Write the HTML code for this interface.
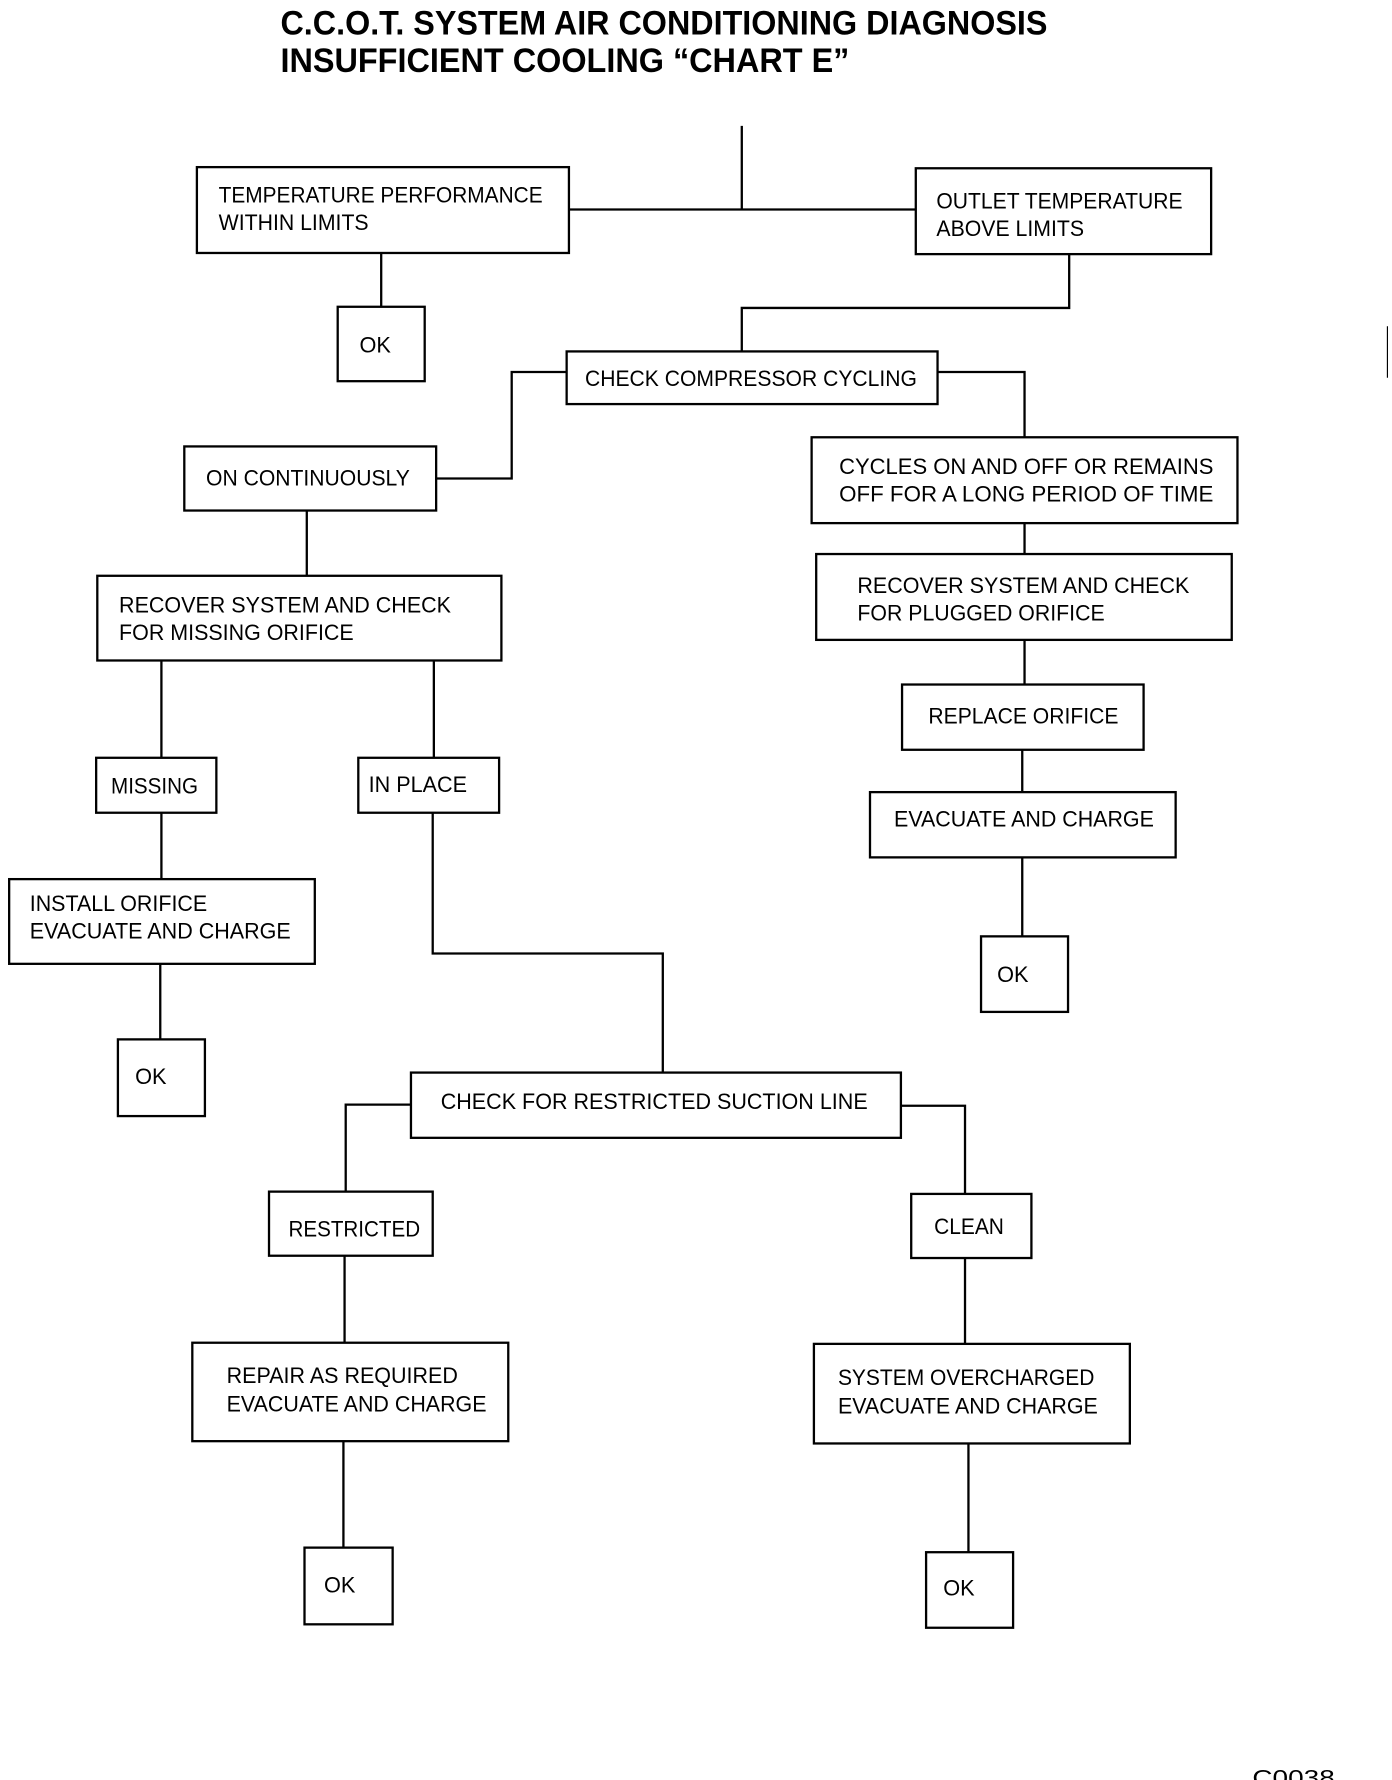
<!DOCTYPE html>
<html><head><meta charset="utf-8"><style>
html,body{margin:0;padding:0;background:#fff;}
svg{display:block;}
text{font-family:"Liberation Sans",sans-serif;fill:#000;}
.t{font-size:19px;}
</style></head><body>
<svg width="1392" height="1780" viewBox="0 0 1216 1555" preserveAspectRatio="none" xmlns="http://www.w3.org/2000/svg">
<g fill="none" stroke="#000" stroke-width="2">
<!-- lines -->
<path d="M648 110V183M497 183H800"/>
<path d="M333 221V268"/>
<path d="M934 222V269H648V307"/>
<path d="M495 325H447V418H381"/>
<path d="M819 325H895V382"/>
<path d="M895 457V484M895 559V598M893 655V692M893 749V818"/>
<path d="M268 446V503M141 577V662M379 577V662M141 710V768M140 842V908"/>
<path d="M378 710V833H579V937"/>
<path d="M359 965H302V1041M301 1097V1173M300 1259V1352"/>
<path d="M787 966H843V1043M843 1099V1174M846 1261V1356"/>
<path d="M1212 285V330" stroke-width="1"/>
<!-- boxes -->
<rect x="172" y="146" width="325" height="75"/>
<rect x="800" y="147" width="258" height="75"/>
<rect x="295" y="268" width="76" height="65"/>
<rect x="495" y="307" width="324" height="46"/>
<rect x="161" y="390" width="220" height="56"/>
<rect x="709" y="382" width="372" height="75"/>
<rect x="713" y="484" width="363" height="75"/>
<rect x="788" y="598" width="211" height="57"/>
<rect x="760" y="692" width="267" height="57"/>
<rect x="857" y="818" width="76" height="66"/>
<rect x="85" y="503" width="353" height="74"/>
<rect x="84" y="662" width="105" height="48"/>
<rect x="313" y="662" width="123" height="48"/>
<rect x="8" y="768" width="267" height="74"/>
<rect x="103" y="908" width="76" height="67"/>
<rect x="359" y="937" width="428" height="57"/>
<rect x="235" y="1041" width="143" height="56"/>
<rect x="168" y="1173" width="276" height="86"/>
<rect x="266" y="1352" width="77" height="67"/>
<rect x="796" y="1043" width="105" height="56"/>
<rect x="711" y="1174" width="276" height="87"/>
<rect x="809" y="1356" width="76" height="66"/>
</g>
<text x="245" y="30" font-size="30" font-weight="bold" textLength="670" lengthAdjust="spacingAndGlyphs">C.C.O.T. SYSTEM AIR CONDITIONING DIAGNOSIS</text>
<text x="245" y="63" font-size="30" font-weight="bold" textLength="497" lengthAdjust="spacingAndGlyphs">INSUFFICIENT COOLING “CHART E”</text>
<g class="t">
<text x="191" y="177" textLength="283" lengthAdjust="spacingAndGlyphs">TEMPERATURE PERFORMANCE</text>
<text x="191" y="201" textLength="131" lengthAdjust="spacingAndGlyphs">WITHIN LIMITS</text>
<text x="818" y="182" textLength="215" lengthAdjust="spacingAndGlyphs">OUTLET TEMPERATURE</text>
<text x="818" y="206" textLength="129" lengthAdjust="spacingAndGlyphs">ABOVE LIMITS</text>
<text x="314" y="308">OK</text>
<text x="511" y="337" textLength="290" lengthAdjust="spacingAndGlyphs">CHECK COMPRESSOR CYCLING</text>
<text x="180" y="424" textLength="178" lengthAdjust="spacingAndGlyphs">ON CONTINUOUSLY</text>
<text x="733" y="414" textLength="327" lengthAdjust="spacingAndGlyphs">CYCLES ON AND OFF OR REMAINS</text>
<text x="733" y="438" textLength="327" lengthAdjust="spacingAndGlyphs">OFF FOR A LONG PERIOD OF TIME</text>
<text x="749" y="518" textLength="290" lengthAdjust="spacingAndGlyphs">RECOVER SYSTEM AND CHECK</text>
<text x="749" y="542" textLength="216" lengthAdjust="spacingAndGlyphs">FOR PLUGGED ORIFICE</text>
<text x="811" y="632" textLength="166" lengthAdjust="spacingAndGlyphs">REPLACE ORIFICE</text>
<text x="781" y="722" textLength="227" lengthAdjust="spacingAndGlyphs">EVACUATE AND CHARGE</text>
<text x="871" y="858">OK</text>
<text x="104" y="535" textLength="290" lengthAdjust="spacingAndGlyphs">RECOVER SYSTEM AND CHECK</text>
<text x="104" y="559" textLength="205" lengthAdjust="spacingAndGlyphs">FOR MISSING ORIFICE</text>
<text x="97" y="693" textLength="76" lengthAdjust="spacingAndGlyphs">MISSING</text>
<text x="322" y="692" textLength="86" lengthAdjust="spacingAndGlyphs">IN PLACE</text>
<text x="26" y="796" textLength="155" lengthAdjust="spacingAndGlyphs">INSTALL ORIFICE</text>
<text x="26" y="820" textLength="228" lengthAdjust="spacingAndGlyphs">EVACUATE AND CHARGE</text>
<text x="118" y="947">OK</text>
<text x="385" y="969" textLength="373" lengthAdjust="spacingAndGlyphs">CHECK FOR RESTRICTED SUCTION LINE</text>
<text x="252" y="1080" textLength="115" lengthAdjust="spacingAndGlyphs">RESTRICTED</text>
<text x="198" y="1208" textLength="202" lengthAdjust="spacingAndGlyphs">REPAIR AS REQUIRED</text>
<text x="198" y="1233" textLength="227" lengthAdjust="spacingAndGlyphs">EVACUATE AND CHARGE</text>
<text x="283" y="1391">OK</text>
<text x="816" y="1078" textLength="61" lengthAdjust="spacingAndGlyphs">CLEAN</text>
<text x="732" y="1210" textLength="224" lengthAdjust="spacingAndGlyphs">SYSTEM OVERCHARGED</text>
<text x="732" y="1235" textLength="227" lengthAdjust="spacingAndGlyphs">EVACUATE AND CHARGE</text>
<text x="824" y="1394">OK</text>
<text x="1094" y="1560" textLength="72" lengthAdjust="spacingAndGlyphs">C0038</text>
</g>
</svg>
</body></html>
